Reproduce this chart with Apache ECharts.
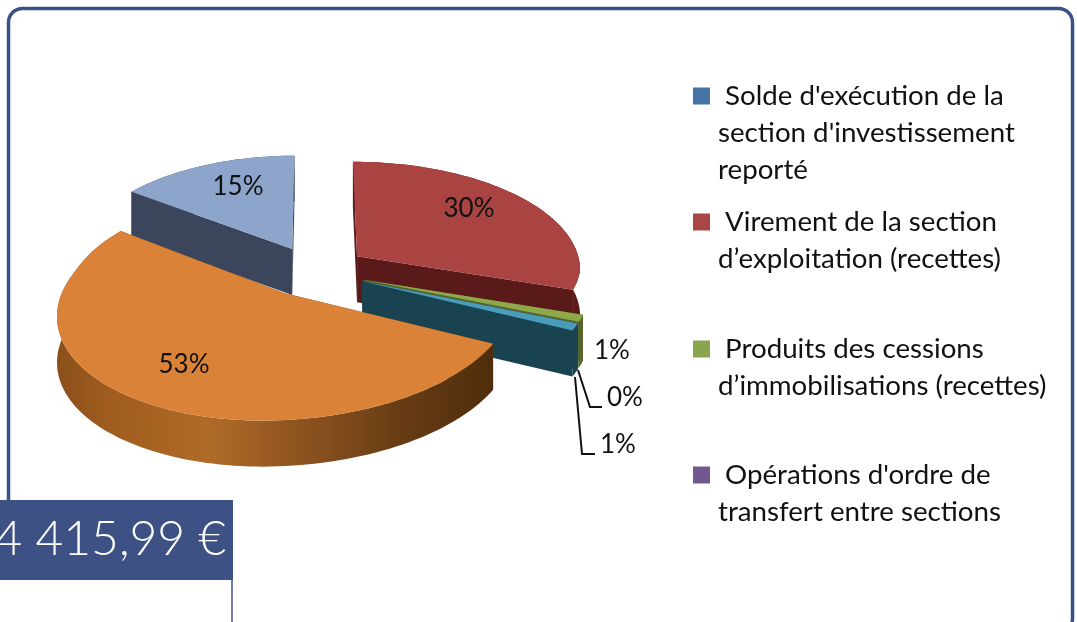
<!DOCTYPE html>
<html><head><meta charset="utf-8">
<style>html,body{margin:0;padding:0;background:#fff}#c{width:1077px;height:622px}</style>
<script src="https://cdn.jsdelivr.net/npm/echarts@6/dist/echarts.min.js"></script>
</head><body><div id="c"></div>
<script>
// DATA
var categories = ["Solde d'exécution de la section d'investissement reporté","Virement de la section d’exploitation (recettes)","Produits des cessions d’immobilisations (recettes)","Opérations d'ordre de transfert entre sections","Autres recettes","Excédent reporté"];
var values = [15,30,1,0,1,53];
var legendLines = [[" Solde d'exécution de la","section d'investissement","reporté"],[" Virement de la section","d’exploitation (recettes)"],[" Produits des cessions","d’immobilisations (recettes)"],[" Opérations d'ordre de","transfert entre sections"]];
var legendColors = ['#4572A7','#AA4643','#89A54E','#71588F'];
var bannerText = '4 415,99 €';

// STYLE / LAYOUT
var topColors = ['#8EA5CB','#A94442','#8FA84A','#71588F','#4A9CBB','#D98238'];
var sideColors = ['#3B465C','#5A1A1A','#55652C','#43345A','#1A4352','#6A3F15'];
var navy = '#3D5185';
var font = 'Lato, Carlito, sans-serif';
var P = {cx:315, cy:271, A:218, rightGain:1.03, B:108, p:0.11, shear:-18, e:0.235, H:46, start:306};
var labelPos = [[238,187],[469,209],[612,351],[625,398],[618,445],[184,365]];
var legendTop = [96,222,349,475];
var lineStep = 37;

function proj(U,V,h){
  var w = 1 - P.p*V, ax = U>0 ? P.A*P.rightGain : P.A;
  return [P.cx + ax*U/w + P.shear*Math.max(V,0), P.cy + P.B*V/w + (h||0)];
}
var total = values.reduce(function(a,b){return a+b;},0);
var starts = [], acc = P.start;
values.forEach(function(v){starts.push(acc); acc += v/total*360;});

function sliceItem(i){
  return function(params, api){
    var a0 = starts[i]*Math.PI/180, sweep = api.value(0)/total*2*Math.PI, a1 = a0+sweep, mid=(a0+a1)/2;
    var ox = P.e*Math.sin(mid), oy = -P.e*Math.cos(mid);
    var n = Math.max(2, Math.ceil(sweep/0.03));
    var topArc=[], botArc=[];
    for(var k=0;k<=n;k++){
      var a=a0+sweep*k/n, U=ox+Math.sin(a), V=oy-Math.cos(a);
      topArc.push(proj(U,V,0)); botArc.push(proj(U,V,P.H));
    }
    var apexT=proj(ox,oy,0), apexB=proj(ox,oy,P.H), ch=[];
    var side = i===5 ? {type:'linear',x:56,y:0,x2:492,y2:0,global:true,colorStops:[
        {offset:0,color:'#8A4F1B'},{offset:.12,color:'#A05C1E'},{offset:.35,color:'#B06A28'},
        {offset:.55,color:'#8F5420'},{offset:.8,color:'#663C14'},{offset:1,color:'#4F2D0C'}]} : sideColors[i];
    if(sweep>0){
      [topArc[0],topArc[n]].forEach(function(c,idx){
        var b = idx===0?botArc[0]:botArc[n];
        ch.push({type:'polygon',shape:{points:[apexT,c,b,apexB]},style:{fill:sideColors[i]}});
      });
      ch.push({type:'polygon',shape:{points:topArc.concat(botArc.slice().reverse())},style:{fill:side}});
      ch.push({type:'polygon',shape:{points:[apexT].concat(topArc)},style:{fill:topColors[i]}});
    }
    ch.push({type:'text',style:{text:api.value(0)+'%',x:labelPos[i][0],y:labelPos[i][1],align:'center',verticalAlign:'middle',font:'26px '+font,fill:'#111'}});
    if(i===3 || i===4){
      // leader line runs from the outer edge of the slice to its label
      var anchor = i===3 ? [578,370] : [575,377];
      var elbowX = labelPos[i][0]-(i===3?35:36), tail = labelPos[i][0]-23;
      ch.push({type:'polyline',shape:{points:[anchor,[elbowX,labelPos[i][1]+9],[tail,labelPos[i][1]+9]]},style:{stroke:'#111',lineWidth:2,fill:null}});
    }
    return {type:'group',children:ch};
  };
}
var series = values.map(function(v,i){
  return {type:'custom',name:categories[i],coordinateSystem:'none',z:2+i,silent:true,data:[[v]],renderItem:sliceItem(i)};
});

var g = [];
g.push({type:'rect',z:0,shape:{x:8.5,y:8.5,width:1064,height:624,r:14},style:{fill:'#fff',stroke:navy,lineWidth:3.5}});
g.push({type:'rect',z:1,shape:{x:0,y:500,width:232,height:122},style:{fill:'#fff'}});
g.push({type:'line',z:1,shape:{x1:232,y1:579,x2:232,y2:622},style:{stroke:navy,lineWidth:1.5}});
g.push({type:'rect',z:1,shape:{x:0,y:500,width:233,height:80},style:{fill:navy}});
g.push({type:'text',z:2,style:{text:bannerText,x:226,y:540,align:'right',verticalAlign:'middle',font:'300 48px Lato, sans-serif',fill:'#fff'}});
legendLines.forEach(function(lines,i){
  g.push({type:'rect',z:1,shape:{x:693,y:legendTop[i]-8.5,width:17,height:17},style:{fill:legendColors[i]}});
  lines.forEach(function(t,j){
    g.push({type:'text',z:1,style:{text:t,x:718,y:legendTop[i]+j*lineStep,align:'left',verticalAlign:'middle',font:'27.7px '+font,fill:'#111'}});
  });
});

var chart = echarts.init(document.getElementById('c'),null,{renderer:'canvas'});
chart.setOption({animation:false,backgroundColor:'#fff',series:series,graphic:{elements:g}});
</script></body></html>
